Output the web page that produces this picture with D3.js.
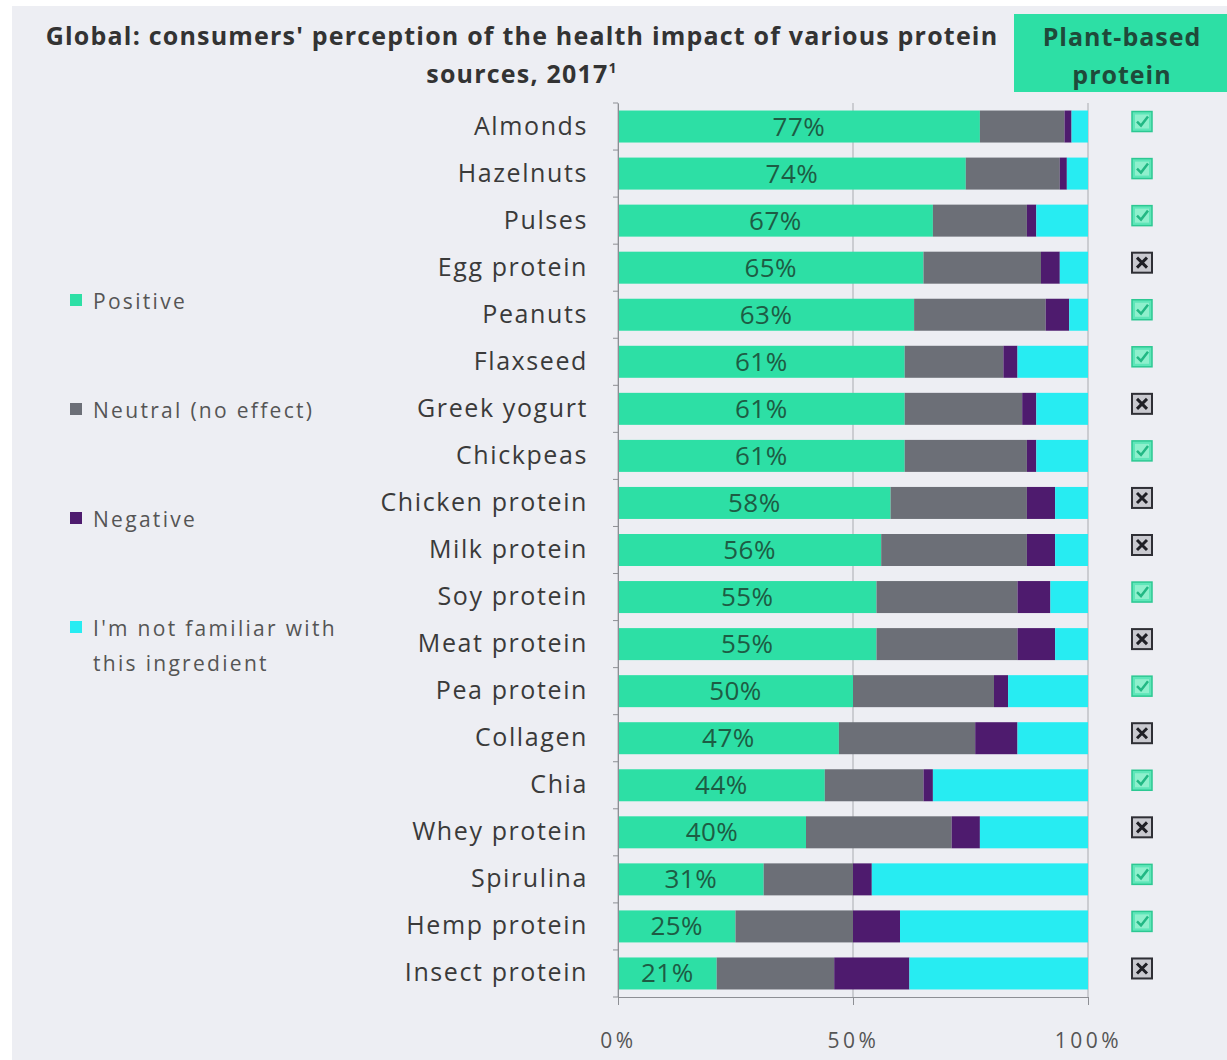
<!DOCTYPE html>
<html>
<head>
<meta charset="utf-8">
<script src="https://cdn.jsdelivr.net/npm/d3@7"></script>
<style>
  html, body { margin: 0; padding: 0; background: #ffffff; }
  svg { display: block; }
</style>
</head>
<body>
<svg id="chart" width="1227" height="1060"></svg>
<script>
// Protein sources, top to bottom
const categories = ["Almonds", "Hazelnuts", "Pulses", "Egg protein", "Peanuts", "Flaxseed",
  "Greek yogurt", "Chickpeas", "Chicken protein", "Milk protein", "Soy protein", "Meat protein",
  "Pea protein", "Collagen", "Chia", "Whey protein", "Spirulina", "Hemp protein", "Insect protein"];

// Share of respondents (%) per perception
const positive   = [77, 74, 67, 65, 63, 61, 61, 61, 58, 56, 55, 55, 50, 47, 44, 40, 31, 25, 21];
const neutral    = [18, 20, 20, 25, 28, 21, 25, 26, 29, 31, 30, 30, 30, 29, 21, 31, 19, 25, 25];
const negative   = [1.5, 1.5, 2, 4, 5, 3, 3, 2, 6, 6, 7, 8, 3, 9, 2, 6, 4, 10, 16];
const unfamiliar = [3.5, 4.5, 11, 6, 4, 15, 11, 11, 7, 7, 8, 7, 17, 15, 33, 23, 46, 40, 38];

// Whether the source is plant-based
const plantBased = [true, true, true, false, true, true, false, true, false, false, true, false,
  true, false, true, false, true, true, false];

const seriesNames = ["Positive", "Neutral (no effect)", "Negative", "I'm not familiar with\nthis ingredient"];
const seriesKeys = ["positive", "neutral", "negative", "unfamiliar"];
const seriesColors = ["#2ddfa5", "#6c6f77", "#4e1b6e", "#27ecf2"];
const xTicks = [0, 50, 100];

const rows = categories.map((c, i) => ({
  category: c,
  positive: positive[i], neutral: neutral[i], negative: negative[i], unfamiliar: unfamiliar[i],
  plant: plantBased[i]
}));

const svg = d3.select("#chart");
const font = "'Open Sans', 'Noto Sans', sans-serif";

// panel background
svg.append("rect").attr("x", 12).attr("y", 6).attr("width", 1215).attr("height", 1054)
  .attr("fill", "#edeef3");

const plotLeft = 618, plotRight = 1088, plotTop = 103, plotBottom = 997;
const x = d3.scaleLinear().domain([0, 100]).range([plotLeft, plotRight]);
const y = d3.scaleBand().domain(categories).range([plotTop, plotBottom]).paddingInner(0.32).paddingOuter(0.16);

// vertical gridlines
svg.append("g").selectAll("line").data(xTicks).join("line")
  .attr("x1", d => x(d)).attr("x2", d => x(d))
  .attr("y1", plotTop).attr("y2", plotBottom)
  .attr("stroke", "#a9abb0").attr("stroke-width", 1);

// stacked bars
const stack = d3.stack().keys(seriesKeys)(rows);
const color = d3.scaleOrdinal().domain(seriesKeys).range(seriesColors);
svg.append("g").selectAll("g").data(stack).join("g")
  .attr("fill", d => color(d.key))
  .selectAll("rect").data(d => d).join("rect")
  .attr("x", d => x(d[0]))
  .attr("width", d => x(d[1]) - x(d[0]))
  .attr("y", d => y(d.data.category))
  .attr("height", y.bandwidth());

// value labels in the positive segment
svg.append("g").selectAll("text").data(rows).join("text")
  .attr("x", d => (x(0) + x(d.positive)) / 2)
  .attr("y", d => y(d.category) + y.bandwidth() / 2 + 9)
  .attr("text-anchor", "middle")
  .attr("font-family", font).attr("font-size", 26)
  .attr("letter-spacing", 0.5)
  .attr("fill", "#1d5c44")
  .text(d => d.positive + "%");

// y axis
const yAxis = svg.append("g").attr("transform", `translate(${plotLeft},0)`)
  .call(d3.axisLeft(y).tickSize(0).tickPadding(30));
yAxis.select(".domain").attr("stroke", "#8d8f94");
yAxis.selectAll("text").attr("font-family", font).attr("font-size", 25)
  .attr("letter-spacing", 1.6).attr("fill", "#3a3a3a");
// tick marks between categories
const step = y.step();
svg.append("g").selectAll("line").data(d3.range(categories.length + 1)).join("line")
  .attr("x1", plotLeft - 5).attr("x2", plotLeft)
  .attr("y1", i => plotTop + i * step).attr("y2", i => plotTop + i * step)
  .attr("stroke", "#8d8f94");

// x axis
const xAxis = svg.append("g").attr("transform", `translate(0,${plotBottom})`)
  .call(d3.axisBottom(x).tickValues(xTicks).tickFormat(d => d + "%").tickSize(8).tickPadding(28).tickSizeOuter(0));
xAxis.select(".domain").attr("stroke", "#8d8f94");
xAxis.selectAll("line").attr("stroke", "#8d8f94");
xAxis.selectAll("text").attr("font-family", font).attr("font-size", 21)
  .attr("letter-spacing", 3.5).attr("fill", "#555");

// title
const title = svg.append("text").attr("text-anchor", "middle")
  .attr("font-family", font).attr("font-weight", "bold").attr("font-size", 25)
  .attr("fill", "#333").attr("letter-spacing", 1.2);
title.append("tspan").attr("x", 522).attr("y", 45)
  .text("Global:  consumers' perception of the health impact of various protein");
title.append("tspan").attr("x", 522).attr("y", 83).text("sources, 2017");
title.append("tspan").attr("dy", -10).attr("font-size", 14).text("1");

// plant-based header box
svg.append("rect").attr("x", 1014).attr("y", 14).attr("width", 213).attr("height", 78)
  .attr("fill", "#2ddfa5");
const ph = svg.append("text").attr("text-anchor", "middle")
  .attr("font-family", font).attr("font-weight", "bold").attr("font-size", 25)
  .attr("letter-spacing", 1).attr("fill", "#1f4a3a");
ph.append("tspan").attr("x", 1122).attr("y", 46).text("Plant-based");
ph.append("tspan").attr("x", 1122).attr("y", 84).text("protein");

// plant-based markers
const marks = svg.append("g").selectAll("g").data(rows).join("g")
  .attr("transform", d => `translate(1142,${y(d.category) + y.bandwidth() / 2 - 5})`);
marks.filter(d => d.plant).each(function () {
  const g = d3.select(this);
  g.append("rect").attr("x", -10).attr("y", -10).attr("width", 20).attr("height", 20)
    .attr("fill", "#5fe6b9").attr("stroke", "#2cc892").attr("stroke-width", 1.5);
  g.append("rect").attr("x", -7).attr("y", -7).attr("width", 14).attr("height", 14)
    .attr("fill", "#8ff0cd");
  g.append("path").attr("d", "M-5,0 L-1,4 L6,-5").attr("fill", "none")
    .attr("stroke", "#22b884").attr("stroke-width", 2.5);
});
marks.filter(d => !d.plant).each(function () {
  const g = d3.select(this);
  g.append("rect").attr("x", -10).attr("y", -10).attr("width", 20).attr("height", 20)
    .attr("fill", "#c9c9cf").attr("stroke", "#2f2f35").attr("stroke-width", 2);
  g.append("path").attr("d", "M-5,-5 L5,5 M5,-5 L-5,5").attr("fill", "none")
    .attr("stroke", "#1f1f25").attr("stroke-width", 3);
});

// legend
const legendY = [302, 411, 520, 629];
const legend = svg.append("g").selectAll("g").data(seriesNames).join("g")
  .attr("transform", (d, i) => `translate(70,${legendY[i]})`);
legend.append("rect").attr("x", 0).attr("y", -8).attr("width", 12).attr("height", 12)
  .attr("fill", (d, i) => seriesColors[i]);
legend.append("text").attr("font-family", font).attr("font-size", 21).attr("fill", "#555")
  .attr("letter-spacing", 2.3)
  .selectAll("tspan").data(d => d.split("\n")).join("tspan")
  .attr("x", 23).attr("y", (d, i) => 7 + i * 35).text(d => d);
</script>
</body>
</html>
